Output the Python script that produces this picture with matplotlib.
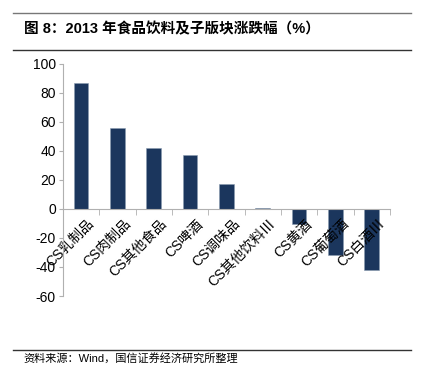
import matplotlib.pyplot as plt
import matplotlib.transforms as mtrans
import numpy as np

plt.rcParams['font.family'] = ['Liberation Sans', 'Noto Sans CJK SC', 'DejaVu Sans']

cats = ['CS乳制品', 'CS肉制品', 'CS其他食品', 'CS啤酒', 'CS调味品',
        'CS其他饮料Ⅲ', 'CS黄酒', 'CS葡萄酒', 'CS白酒Ⅲ']
vals = [87, 55.5, 42, 37, 17, 1, -10.5, -31.5, -42]
yticks = [-60, -40, -20, 0, 20, 40, 60, 80, 100]

fig = plt.figure(figsize=(4.28, 3.80), dpi=100)
ax = fig.add_axes([0.147, 0.221, 0.764, 0.611])

x = np.arange(len(cats))
ax.bar(x, vals, width=0.4, color='#1b365d', edgecolor='#8a9bb0', linewidth=0.4, zorder=1)
ax.set_xlim(-0.5, len(cats) - 0.5)
ax.set_ylim(-60, 100)
ax.set_yticks(yticks)
ax.set_yticklabels([str(t) for t in yticks], fontsize=10)

for s in ['top', 'right']:
    ax.spines[s].set_visible(False)
ax.spines['left'].set_color('#b0b0b0')
ax.spines['bottom'].set_color('#b0b0b0')
ax.spines['bottom'].set_position(('data', 0))
ax.tick_params(axis='y', length=3, color='#b0b0b0', pad=2)

ax.set_xticks(np.arange(-0.5, len(cats), 1.0), minor=True)
ax.set_xticks(x)
ax.set_xticklabels(cats, rotation=45, ha='right', rotation_mode='anchor', fontsize=10)
ax.tick_params(axis='x', which='major', length=0, pad=5)
ax.tick_params(axis='x', which='minor', length=4, color='#b0b0b0')
shift = mtrans.ScaledTranslation(6/100, -1/100, fig.dpi_scale_trans)
for lab in ax.get_xticklabels():
    lab.set_transform(lab.get_transform() + shift)

fig.add_artist(plt.Line2D([0.03, 0.96], [1 - 13/380, 1 - 13/380], color='#777777', lw=1))
fig.add_artist(plt.Line2D([0.03, 0.96], [1 - 50/380, 1 - 50/380], color='#333333', lw=1))
fig.add_artist(plt.Line2D([0.03, 0.96], [1 - 350/380, 1 - 350/380], color='#333333', lw=1))
fig.text(0.055, 1 - 29/380, '图 8：2013 年食品饮料及子版块涨跌幅（%）', fontsize=10.5,
         fontweight='bold', va='center', family=['Liberation Sans', 'Noto Sans CJK SC'])
fig.text(0.055, 1 - 358/380, '资料来源：Wind，国信证券经济研究所整理', fontsize=8, va='center')

fig.savefig('out.png', dpi=100)
